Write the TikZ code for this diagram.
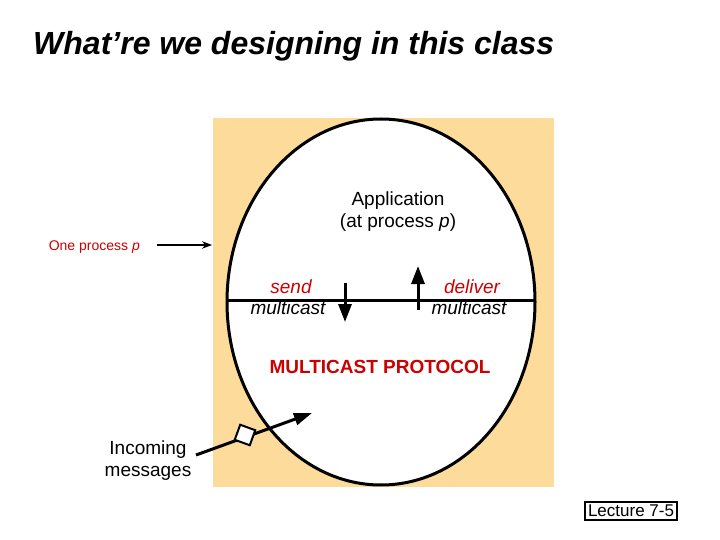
\documentclass[tikz,border=0pt]{standalone}
\usepackage{fontspec}
\setmainfont{Liberation Sans}
\usetikzlibrary{arrows.meta, positioning}
\definecolor{peach}{HTML}{FDDC9B}
\definecolor{labelred}{HTML}{CC0000}

\begin{document}
\begin{tikzpicture}[x=1pt, y=-1pt,
    txt/.style={font=\fontsize{19}{22}\selectfont, align=center, inner sep=0pt},
    redtxt/.style={txt, text=labelred},
    thick arrow/.style={line width=3pt, -{Triangle[length=18pt, width=13pt]}},
]
\useasboundingbox (0,0) rectangle (720,540);

% Title
\node[anchor=west, inner sep=0pt, font=\fontsize{32}{34}\selectfont\bfseries\itshape] (title) at (33,46) {What’re we designing in this class};

% Process area
\fill[peach] (213,118) rectangle (554,487);
\draw[line width=3pt, fill=white] (381,302) ellipse [x radius=154, y radius=183];
\coordinate (lineL) at (227,300);
\coordinate (lineR) at (535,300);
\draw[line width=3pt] (lineL) -- (lineR);

\node[txt] (app) at (398,212) {Application\\ (at process \textit{p})};

% send / deliver
\coordinate (sendA) at (345,283);
\coordinate (sendB) at (345,322);
\coordinate (delA) at (418,310);
\coordinate (delB) at (418,266);
\draw[thick arrow] (sendA) -- (sendB);
\draw[thick arrow] (delA) -- (delB);
\node[redtxt, font=\fontsize{19}{22}\selectfont\itshape] (send) at (291,287) {send};
\node[txt, font=\fontsize{19}{22}\selectfont\itshape] (sendm) at (288,308) {multicast};
\node[redtxt, font=\fontsize{19}{22}\selectfont\itshape] (deliver) at (472,287) {deliver};
\node[txt, font=\fontsize{19}{22}\selectfont\itshape] (deliverm) at (469,308) {multicast};

\node[redtxt, font=\fontsize{19}{22}\selectfont\bfseries] (proto) at (380,367) {MULTICAST PROTOCOL};

% One process p
\node[text=labelred, font=\fontsize{14}{16}\selectfont, anchor=east, inner sep=0pt] (onep) at (140,247) {One process \textit{p}};
\coordinate (onepEnd) at (212,245);
\draw[line width=1.2pt, -{Stealth[length=10pt]}] (onep.east) ++(17,-2) -- (onepEnd);

% Incoming messages
\node[txt, align=center] (inc) at (148,461) {Incoming\\ messages};
\coordinate (incA) at (196,455);
\coordinate (incB) at (312,413);
\draw[line width=3pt, -{Triangle[length=18pt, width=12pt]}] (incA) -- (incB);
\node[draw, line width=2pt, fill=white, minimum size=16pt, inner sep=0pt, rotate=-20] (msg) at (245,435) {};

% Lecture label
\node[draw, line width=1.2pt, font=\fontsize{17}{19}\selectfont, inner sep=3pt] (lec) at (631,511) {Lecture 7-5};
\end{tikzpicture}
\end{document}
